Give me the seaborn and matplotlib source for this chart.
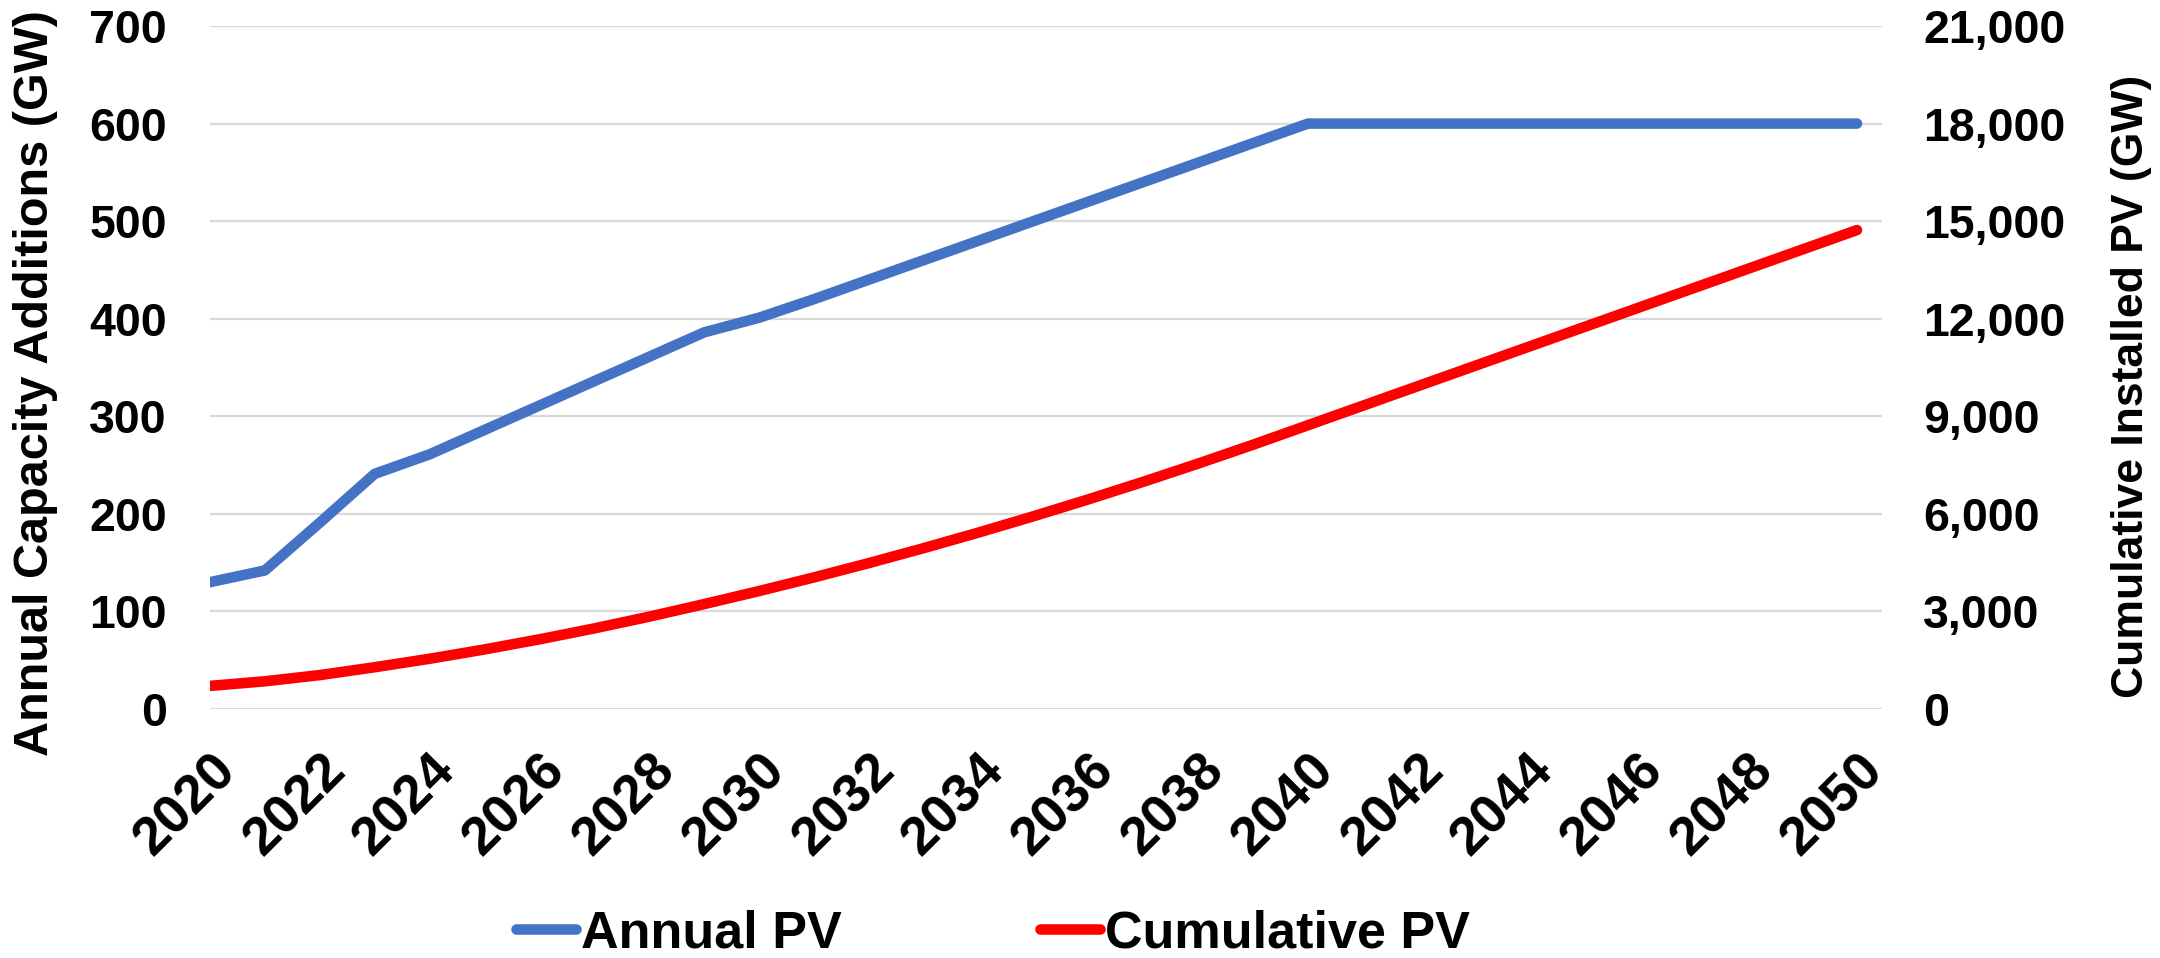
import matplotlib
matplotlib.use("Agg")
import matplotlib.pyplot as plt
import seaborn as sns
import pandas as pd
from matplotlib.lines import Line2D
from matplotlib.ticker import FuncFormatter, MultipleLocator

years = list(range(2020, 2051))
annual_pv = [130, 142, 191, 241, 261, 286, 311, 336, 361, 386,
             401, 420, 440, 460, 480, 500, 520, 540, 560, 580,
             600, 600, 600, 600, 600, 600, 600, 600, 600, 600, 600]
cumulative_pv = [710, 852, 1043, 1284, 1545, 1831, 2142, 2478, 2839, 3225,
                 3626, 4046, 4486, 4946, 5426, 5926, 6446, 6986, 7546, 8126,
                 8726, 9326, 9926, 10526, 11126, 11726, 12326, 12926, 13526, 14126,
                 14726]
x_ticks = list(range(2020, 2051, 2))
left_label = "Annual Capacity Additions (GW)"
right_label = "Cumulative Installed PV (GW)"
series_names = ["Annual PV", "Cumulative PV"]

BLUE = "#4472C4"
RED = "#FF0000"

sns.set_theme(style="white")
plt.rcParams["font.family"] = ["Liberation Sans", "DejaVu Sans"]
plt.rcParams["font.weight"] = "bold"
plt.rcParams["text.color"] = "black"
plt.rcParams["axes.labelcolor"] = "black"
plt.rcParams["xtick.color"] = "black"
plt.rcParams["ytick.color"] = "black"

df = pd.DataFrame({"year": years, "annual": annual_pv, "cumulative": cumulative_pv})

W, H = 2160, 958
L, R, T, B = 210, 1882, 26, 709

fig = plt.figure(figsize=(W / 100, H / 100), dpi=100)
ax = fig.add_axes([L / W, 1 - B / H, (R - L) / W, (B - T) / H])
ax2 = ax.twinx()

LW = 7.6
sns.lineplot(data=df, x="year", y="annual", ax=ax, color=BLUE, linewidth=LW,
             solid_capstyle="round", zorder=3)
sns.lineplot(data=df, x="year", y="cumulative", ax=ax2, color=RED, linewidth=LW,
             solid_capstyle="round", zorder=3)

ax.set_xlim(2020, 2050.455)
ax.set_ylim(0, 700)
ax2.set_ylim(0, 21000)
ax.yaxis.set_major_locator(MultipleLocator(100))
ax2.yaxis.set_major_locator(MultipleLocator(3000))
ax2.yaxis.set_major_formatter(FuncFormatter(lambda v, p: f"{int(v):,}"))
ax.set_xticks(x_ticks)
ax.set_xticklabels([str(y) for y in x_ticks], rotation=45, ha="right", va="top",
                   rotation_mode="anchor", fontsize=39, fontweight="bold", color="black")

ax.grid(axis="y", color="#D9D9D9", linewidth=1.6)
ax.grid(axis="x", visible=False)
ax2.grid(False)
for a in (ax, ax2):
    for s in a.spines.values():
        s.set_visible(False)

ax.tick_params(axis="y", length=0, pad=31, labelsize=33.5, labelcolor="black")
ax.tick_params(axis="x", length=0, pad=26, labelcolor="black")
ax2.tick_params(axis="y", length=0, pad=29.5, labelsize=33.5, labelcolor="black")
for lab in ax.get_yticklabels() + ax2.get_yticklabels():
    lab.set_fontweight("bold")

ax.set_xlabel("")
ax.set_ylabel(left_label, fontsize=35, fontweight="bold", color="black")
ax2.set_ylabel(right_label, fontsize=32, fontweight="bold", color="black", rotation=90)
ax.yaxis.set_label_coords((58 - L) / (R - L), (B - 383) / (B - T))
ax2.yaxis.set_label_coords((2111 - L) / (R - L), (B - 386) / (B - T))

for a in (ax, ax2):
    leg = a.get_legend()
    if leg is not None:
        leg.remove()

handles = [Line2D([0], [0], color=BLUE, linewidth=LW, solid_capstyle="round"),
           Line2D([0], [0], color=RED, linewidth=LW, solid_capstyle="round")]
fig.legend(handles, series_names, loc="center", bbox_to_anchor=(993 / W, 1 - 934 / H),
           ncol=2, frameon=False, prop={"size": 37.5, "weight": "bold"},
           handlelength=1.15, handletextpad=0.1, columnspacing=3.8, labelcolor="black")

fig.savefig("out.png", dpi=100)
